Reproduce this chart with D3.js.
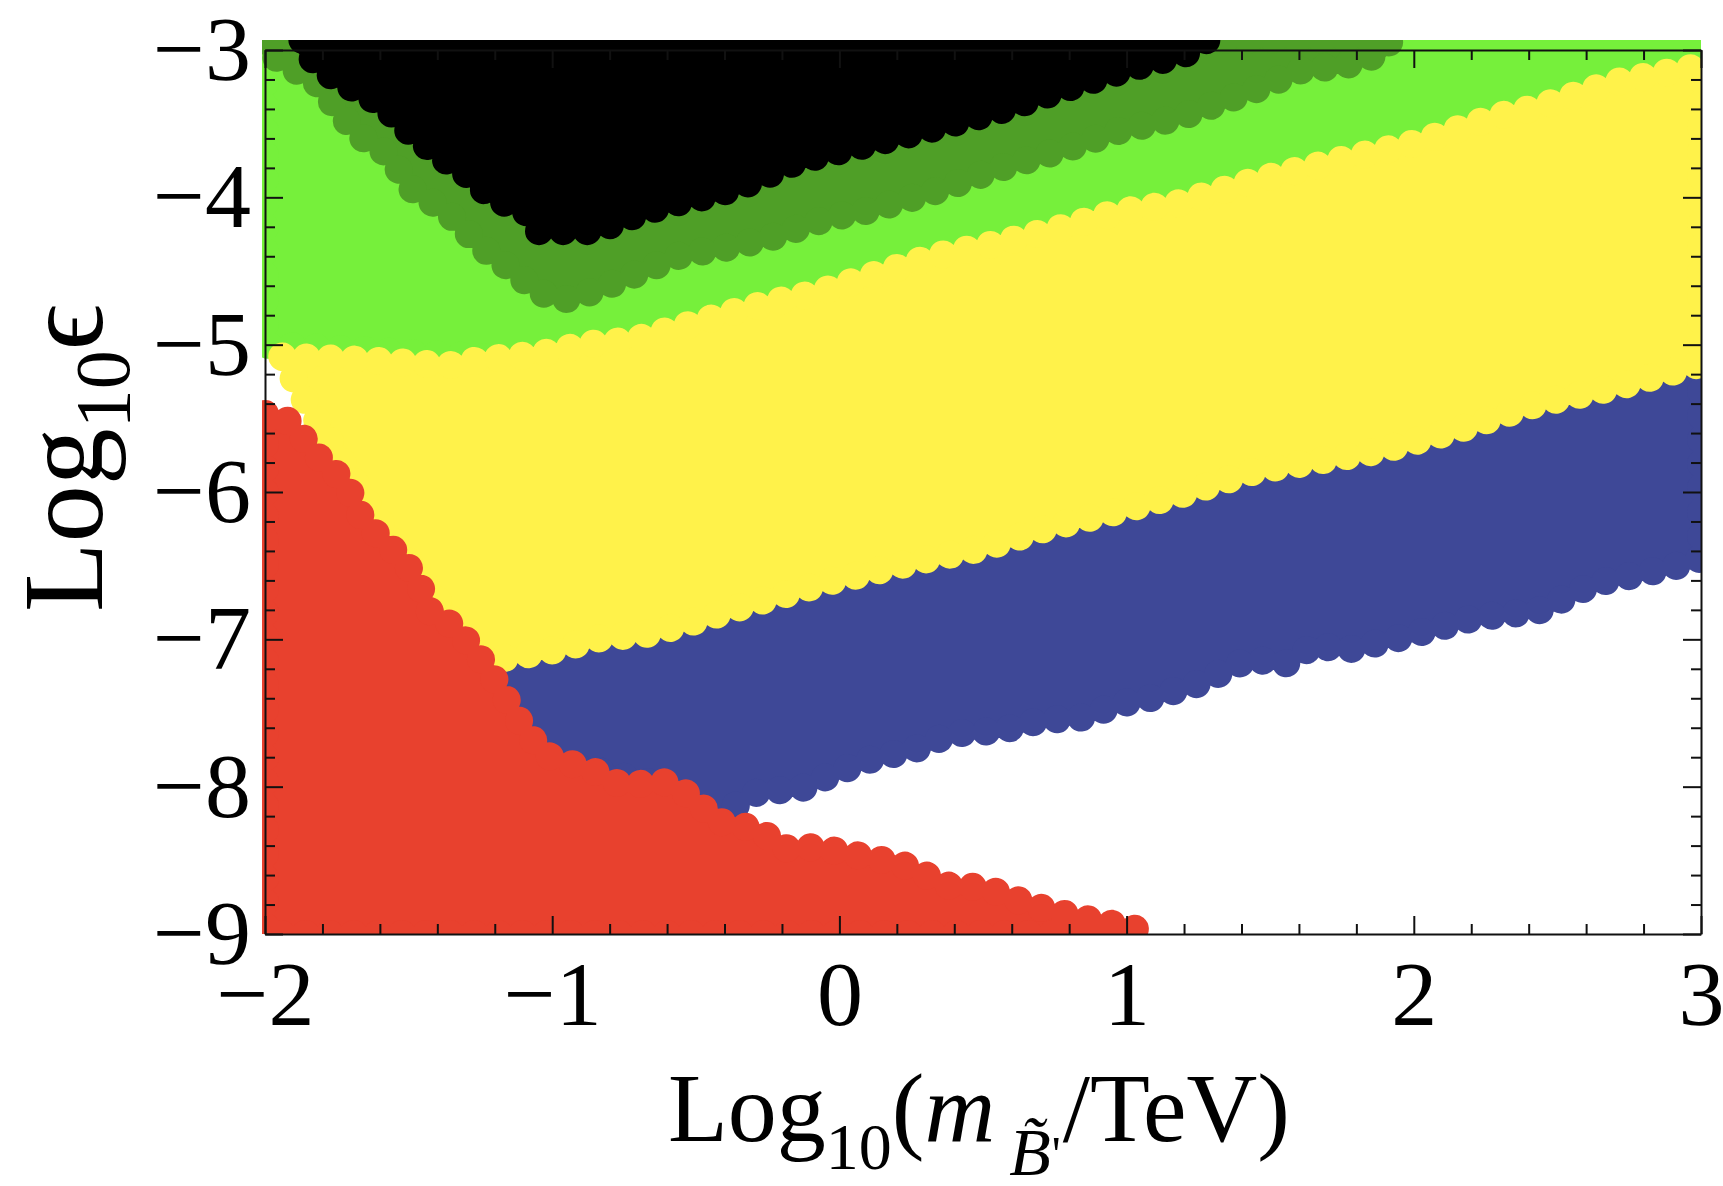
<!DOCTYPE html>
<html>
<head>
<meta charset="UTF-8">
<style>
body { margin: 0; background: #fff; }
svg text { font-family: 'Liberation Serif', 'Times New Roman', serif; fill: #000; }
.axis path, .axis line { stroke: #111; stroke-width: 2px; }
</style>
</head>
<body>
<svg id="chart"></svg>
<script src="https://d3js.org/d3.v7.min.js"></script>
<script>
let width = 1723, height = 1186;
let margin = {left: 265, right: 22, top: 50, bottom: 252};

// outlines of each coloured cloud of points, [log10(m/TeV), log10(eps)]
// (traced along the centres of the outermost dots)
let lightGreen = [[-2, -2.93], [3, -2.93], [3, -3.6], [-1.1, -5.1], [-2, -5.0]];

let darkGreen = [[-2, -2.93], [-2, -3.0], [-1.91, -3.12], [-1.83, -3.2], [-1.76, -3.37],
  [-1.68, -3.57], [-1.57, -3.71], [-1.49, -3.94], [-1.36, -4.11], [-1.29, -4.25],
  [-1.22, -4.38], [-1.12, -4.52], [-1.06, -4.63], [-0.97, -4.70], [-0.89, -4.66],
  [-0.77, -4.57], [-0.66, -4.48], [-0.55, -4.39], [-0.39, -4.34], [-0.25, -4.28],
  [-0.04, -4.14], [0.10, -4.09], [0.33, -3.96], [0.56, -3.80], [0.79, -3.67],
  [0.97, -3.55], [1.18, -3.46], [1.46, -3.26], [1.60, -3.14], [1.77, -3.10],
  [1.89, -3.02], [1.92, -2.93]];

let black = [[-1.87, -2.93], [-1.87, -3.0], [-1.76, -3.19], [-1.59, -3.37], [-1.50, -3.55],
  [-1.40, -3.71], [-1.30, -3.84], [-1.21, -4.0], [-1.08, -4.11], [-1.05, -4.23],
  [-0.84, -4.23], [-0.77, -4.16], [-0.60, -4.05], [-0.43, -3.98], [-0.31, -3.90],
  [-0.14, -3.75], [0.10, -3.64], [0.33, -3.53], [0.56, -3.41], [0.79, -3.26],
  [1.02, -3.12], [1.20, -3.03], [1.28, -2.93]];

let yellowTop = [[-1.94, -5.08], [-1.70, -5.10], [-1.36, -5.14], [-1.24, -5.10], [-1.12, -5.08],
  [-1.0, -5.05], [-0.89, -5.0], [-0.72, -4.97], [-0.55, -4.88], [-0.37, -4.78],
  [-0.25, -4.72], [-0.08, -4.65], [0.10, -4.54], [0.33, -4.40], [0.56, -4.31],
  [0.79, -4.20], [0.97, -4.10], [1.18, -4.04], [1.46, -3.88], [1.74, -3.75],
  [2.01, -3.63], [2.29, -3.45], [2.43, -3.39], [2.70, -3.22], [3.0, -3.11]];
let yellowBottom = [[3.0, -5.13], [2.70, -5.29], [2.43, -5.40], [2.15, -5.58], [1.88, -5.72],
  [1.60, -5.81], [1.46, -5.85], [1.20, -6.01], [0.97, -6.13], [0.73, -6.24],
  [0.50, -6.38], [0.27, -6.47], [0.10, -6.55], [-0.02, -6.60], [-0.20, -6.70],
  [-0.31, -6.76], [-0.49, -6.87], [-0.66, -6.96], [-0.83, -6.99], [-1.01, -7.08],
  [-1.18, -7.13], [-1.25, -7.13], [-1.62, -6.15], [-1.86, -5.38]];

let blueTop = [[-1.25, -7.2], [-1.2, -6.9], [3, -4.9]];
let blueBottom = [[3.0, -6.45], [2.90, -6.51], [2.63, -6.62], [2.43, -6.81], [2.22, -6.85],
  [1.95, -6.99], [1.75, -7.08], [1.66, -7.03], [1.55, -7.17], [1.43, -7.13],
  [1.25, -7.30], [1.08, -7.40], [0.97, -7.44], [0.85, -7.53], [0.70, -7.55],
  [0.56, -7.62], [0.39, -7.64], [0.27, -7.74], [0.10, -7.82], [-0.02, -7.91],
  [-0.14, -8.02], [-0.28, -8.03], [-0.37, -8.14], [-0.4, -8.3], [-0.6, -8.0],
  [-1.05, -7.8]];

let red = [[-2.0, -5.47], [-1.93, -5.50], [-1.88, -5.60], [-1.83, -5.73], [-1.78, -5.83],
  [-1.72, -5.93], [-1.67, -6.15], [-1.62, -6.27], [-1.56, -6.38], [-1.51, -6.48],
  [-1.46, -6.64], [-1.42, -6.84], [-1.35, -6.90], [-1.28, -7.05], [-1.22, -7.21],
  [-1.11, -7.57], [-1.03, -7.78], [-0.85, -7.90], [-0.76, -7.99], [-0.61, -7.97],
  [-0.50, -8.08], [-0.44, -8.23], [-0.28, -8.29], [-0.20, -8.42], [-0.08, -8.41],
  [0.10, -8.48], [0.21, -8.52], [0.39, -8.68], [0.50, -8.68], [0.62, -8.77],
  [0.73, -8.84], [0.91, -8.92], [1.02, -8.95], [1.05, -9.0], [-2.0, -9.0]];

let xMajor = [-2, -1, 0, 1, 2, 3];
let yMajor = [-9, -8, -7, -6, -5, -4, -3];
let minorStep = 0.2;

// drawing order = order the points were put down
let regions = [
  {pts: lightGreen, color: "#76f03b"},
  {pts: darkGreen, color: "#4f9f27"},
  {pts: black, color: "#000000"},
  {pts: blueTop.concat(blueBottom), color: "#3e4897"},
  {pts: yellowTop.concat(yellowBottom), color: "#fff24a"},
  {pts: red, color: "#e8412e"}
];

let svg = d3.select("#chart").attr("width", width).attr("height", height);

let x = d3.scaleLinear().domain([-2, 3]).range([margin.left, width - margin.right]);
let y = d3.scaleLinear().domain([-9, -3]).range([height - margin.bottom, margin.top]);

svg.append("clipPath").attr("id", "plotclip")
  .append("rect")
    .attr("x", x(-2) - 3)
    .attr("y", y(-3) - 10)
    .attr("width", x(3) - x(-2) + 3)
    .attr("height", y(-9) - y(-3) + 10);

let line = d3.line().x(d => x(d[0])).y(d => y(d[1])).curve(d3.curveLinearClosed);

let g = svg.append("g").attr("clip-path", "url(#plotclip)");

regions.forEach(r => {
  // filled body
  g.append("path")
    .attr("d", line(r.pts))
    .attr("fill", r.color)
    .attr("stroke", r.color)
    .attr("stroke-width", 10)
    .attr("stroke-linejoin", "round");
  // the round dots that make the ragged edge
  g.append("path")
    .attr("d", line(r.pts))
    .attr("fill", "none")
    .attr("stroke", r.color)
    .attr("stroke-width", 28)
    .attr("stroke-linecap", "round")
    .attr("stroke-dasharray", "0.1 24");
});

// frame with inward ticks
let minorX = d3.range(-2, 3.001, minorStep).filter(v => Math.abs(v - Math.round(v)) > 1e-6);
let minorY = d3.range(-9, -2.999, minorStep).filter(v => Math.abs(v - Math.round(v)) > 1e-6);

function frame(axisFn, scale, pos, major, minor, labels, pad) {
  let ga = svg.append("g").attr("class", "axis").attr("transform", pos);
  ga.call(axisFn(scale).tickValues(major).tickSizeInner(-18).tickSizeOuter(0)
    .tickPadding(pad).tickFormat(labels ? d3.format("d") : ""));
  ga.append("g").call(axisFn(scale).tickValues(minor).tickSizeInner(-10).tickSizeOuter(0)
    .tickFormat(""));
  ga.selectAll("g g .domain").remove();
  ga.selectAll("text").attr("font-size", 92).attr("fill", "#000")
    .attr("font-family", "'Liberation Serif', serif");
  return ga;
}

frame(d3.axisBottom, x, `translate(0,${y(-9)})`, xMajor, minorX, true, 26);
frame(d3.axisTop, x, `translate(0,${y(-3)})`, xMajor, minorX, false, 0);
frame(d3.axisLeft, y, `translate(${x(-2)},0)`, yMajor, minorY, true, 14);
frame(d3.axisRight, y, `translate(${x(3)},0)`, yMajor, minorY, false, 0);

// axis titles
let xt = svg.append("text")
  .attr("x", (x(-2) + x(3)) / 2 - 4)
  .attr("y", 1141)
  .attr("text-anchor", "middle")
  .attr("font-size", 98);
xt.append("tspan").text("Log");
xt.append("tspan").attr("font-size", 66).attr("dy", 28).text("10");
xt.append("tspan").attr("dy", -28).text("(");
xt.append("tspan").attr("font-style", "italic").text("m");
xt.append("tspan").attr("font-size", 68).attr("font-style", "italic").attr("dx", 14).attr("dy", 34).text("B\u0303");
xt.append("tspan").attr("font-size", 50).attr("dx", 1).attr("dy", -4).text("'");
xt.append("tspan").attr("dy", -30).attr("dx", 2).text("/TeV)");

let yt = svg.append("text")
  .attr("transform", `translate(102,${(y(-3) + y(-9)) / 2 - 34}) rotate(-90)`)
  .attr("text-anchor", "middle")
  .attr("font-size", 114);
yt.append("tspan").text("Log");
yt.append("tspan").attr("font-size", 78).attr("dy", 27).text("10");
yt.append("tspan").attr("dy", -27).text("\u03f5");
</script>
</body>
</html>
